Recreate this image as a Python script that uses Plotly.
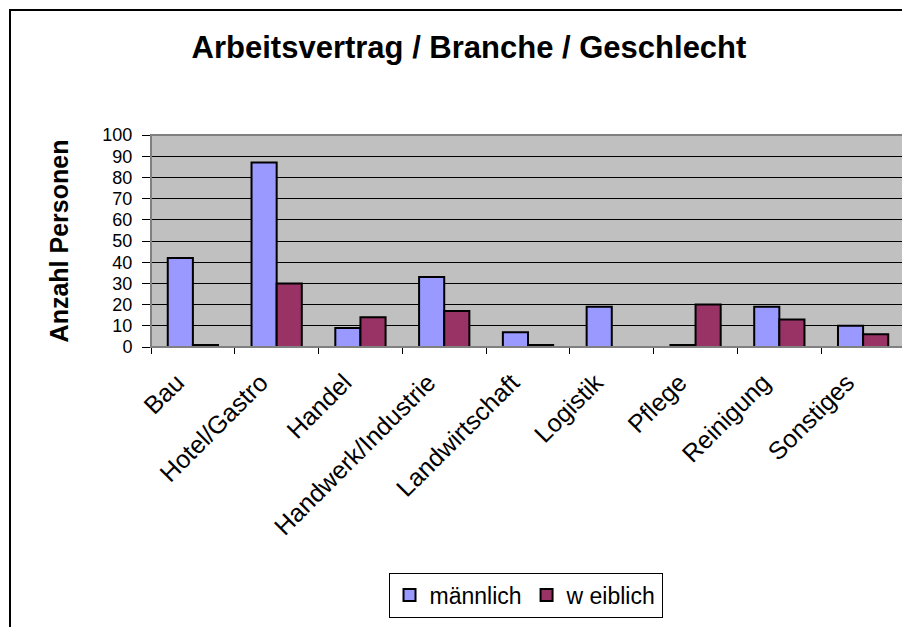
import plotly.graph_objects as go

branchen = [
    "Bau",
    "Hotel/Gastro",
    "Handel",
    "Handwerk/Industrie",
    "Landwirtschaft",
    "Logistik",
    "Pflege",
    "Reinigung",
    "Sonstiges",
]
maennlich = [42, 87, 9, 33, 7, 19, 1, 19, 10]
weiblich = [1, 30, 14, 17, 1, 0, 20, 13, 6]

FONT = "Liberation Sans, Arial, sans-serif"

fig = go.Figure()
fig.add_trace(
    go.Bar(
        x=branchen,
        y=maennlich,
        name="männlich",
        marker={"color": "#9999FF", "line": {"color": "black", "width": 2}},
    )
)
fig.add_trace(
    go.Bar(
        x=branchen,
        y=weiblich,
        name="w eiblich",
        marker={"color": "#993366", "line": {"color": "black", "width": 2}},
    )
)

# the page puts the figure 8px in from the top/left, margins compensate for that
fig.update_layout(
    width=910,
    height=627,
    margin={"l": 143, "r": 13, "t": 127, "b": 288},
    paper_bgcolor="white",
    plot_bgcolor="#C0C0C0",
    barmode="group",
    bargap=0.4,
    bargroupgap=0,
    font={"family": FONT, "color": "black"},
    title={
        "text": "<b>Arbeitsvertrag / Branche / Geschlecht</b>",
        "x": 461 / 910,
        "xanchor": "center",
        "y": 1 - 39 / 627,
        "yanchor": "middle",
        "font": {"size": 31, "family": FONT},
    },
    legend={
        "orientation": "h",
        "x": 0.4967,
        "xanchor": "center",
        "y": -1.17,
        "yanchor": "middle",
        "bgcolor": "white",
        "bordercolor": "black",
        "borderwidth": 1,
        "font": {"size": 23},
        "itemwidth": 30,
    },
    shapes=[
        # plot area frame (gray)
        dict(type="rect", xref="paper", yref="paper", x0=0, x1=1, y0=0, y1=1,
             line={"color": "#808080", "width": 2}, layer="above"),
        # outer chart border
        dict(type="rect", xref="paper", yref="paper", x0=-0.187, x1=1.2, y0=-1.6, y1=1.59,
             line={"color": "black", "width": 2}, layer="above"),
    ],
)

fig.update_xaxes(
    tickangle=-45,
    tickfont={"size": 25},
    showline=True,
    linecolor="black",
    linewidth=1,
    ticks="outside",
    tickson="boundaries",
    ticklen=6,
    tickcolor="black",
    showgrid=False,
    automargin=False,
    ticklabelstandoff=10,
    ticklabelshift=-16,
)
fig.update_yaxes(
    range=[0, 100],
    dtick=10,
    tickfont={"size": 18},
    showline=True,
    linecolor="black",
    linewidth=1,
    ticks="outside",
    ticklen=8,
    tickcolor="black",
    showgrid=True,
    gridcolor="black",
    gridwidth=1,
    zeroline=False,
    automargin=False,
    ticklabelstandoff=6,
    title={"text": "<b>Anzahl Personen</b>", "font": {"size": 25}, "standoff": 26},
)

fig.write_html("out.html")
